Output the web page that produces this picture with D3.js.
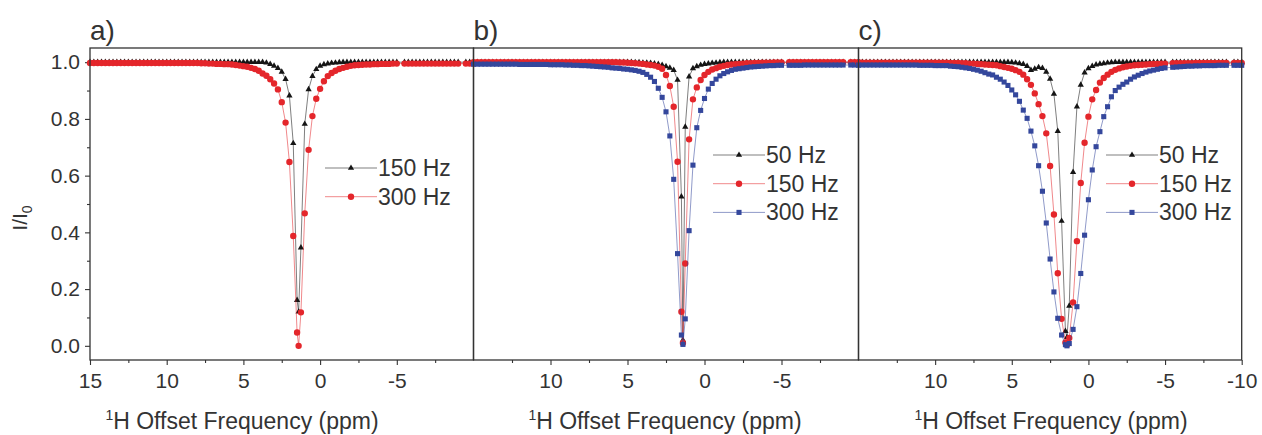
<!DOCTYPE html>
<html>
<head>
<meta charset="utf-8">
<script src="https://cdn.jsdelivr.net/npm/d3@7"></script>
<style>
body { margin: 0; background: #fff; }
svg { display: block; font-family: 'Liberation Sans', Arial, sans-serif; }
</style>
</head>
<body>
<div id="chart"></div>
<script>
// 1H offset frequencies (ppm), shared by every series
let offsets = [15, 14.75, 14.5, 14.25, 14, 13.75, 13.5, 13.25, 13, 12.75, 12.5, 12.25,
	12, 11.75, 11.5, 11.25, 11, 10.75, 10.5, 10.25, 10, 9.75, 9.5, 9.25,
	9, 8.75, 8.5, 8.25, 8, 7.75, 7.5, 7.25, 7, 6.75, 6.5, 6.25,
	6, 5.75, 5.5, 5.25, 5, 4.75, 4.5, 4.25, 4, 3.75, 3.5, 3.25,
	3, 2.75, 2.5, 2.25, 2, 1.75, 1.5, 1.4, 1.25,
	1, 0.75, 0.5, 0.25, 0, -0.25, -0.5, -0.75, -1, -1.25, -1.5, -1.75, -2,
	-2.25, -2.5, -2.75, -3, -3.25, -3.5, -3.75, -4, -4.25, -4.5, -4.75, -5,
	-5.5, -5.75, -6, -6.25, -6.5, -6.75, -7, -7.25, -7.5, -7.75, -8, -8.25,
	-8.5, -8.75, -9, -9.5, -9.75, -10];

// panel a
let a150 = [1, 1, 1, 1, 1, 1, 1, 1, 1, 1, 1, 1,
	1, 1, 1, 1, 1, 1, 1, 1, 1, 1, 1, 1,
	1, 1, 1, 1, 1, 1, 1, 1, 1, 1, 1, 1,
	1, 1, 1, 1, 1, 1, 1, 1, 1, 1, 0.998, 0.993,
	0.987, 0.979, 0.966, 0.94, 0.882, 0.714, 0.161, 0.12, 0.346,
	0.782, 0.904, 0.951, 0.975, 0.987, 0.992, 0.995, 0.997, 0.998, 0.999, 1, 1, 1,
	1, 1, 1, 1, 1, 1, 1, 1, 1, 1, 1, 1,
	1, 1, 1, 1, 1, 1, 1, 1, 1, 1, 1, 1,
	1, 1, 1, 1, 1, 1];
let a300 = [0.997, 0.997, 0.997, 0.997, 0.997, 0.997, 0.997, 0.997, 0.997, 0.997, 0.997, 0.997,
	0.997, 0.997, 0.997, 0.997, 0.997, 0.997, 0.997, 0.997, 0.997, 0.997, 0.997, 0.997,
	0.997, 0.997, 0.997, 0.997, 0.997, 0.996, 0.996, 0.995, 0.995, 0.994, 0.994, 0.993,
	0.993, 0.992, 0.99, 0.988, 0.986, 0.984, 0.98, 0.976, 0.97, 0.96, 0.952, 0.94,
	0.925, 0.904, 0.859, 0.787, 0.648, 0.387, 0.047, 0, 0.118,
	0.467, 0.691, 0.81, 0.871, 0.906, 0.933, 0.951, 0.962, 0.97, 0.976, 0.98, 0.984, 0.987,
	0.989, 0.99, 0.991, 0.992, 0.992, 0.993, 0.993, 0.994, 0.994, 0.994, 0.995, 0.995,
	0.995, 0.995, 0.995, 0.995, 0.995, 0.995, 0.995, 0.995, 0.995, 0.995, 0.995, 0.995,
	0.995, 0.995, 0.995, 0.995, 0.995, 0.995];

// panel b
let b50 = [1, 1, 1, 1, 1, 1, 1, 1, 1, 1, 1, 1,
	1, 1, 1, 1, 1, 1, 1, 1, 1, 1, 1, 1,
	1, 1, 1, 1, 1, 1, 1, 1, 1, 1, 1, 1,
	1, 1, 1, 1, 1, 1, 0.999, 0.999, 0.998, 0.998, 0.997, 0.995,
	0.993, 0.99, 0.985, 0.98, 0.972, 0.937, 0.526, 0.02, 0.772,
	0.949, 0.978, 0.985, 0.99, 0.993, 0.995, 0.997, 0.998, 0.999, 1, 1, 1, 1,
	1, 1, 1, 1, 1, 1, 1, 1, 1, 1, 1, 1,
	1, 1, 1, 1, 1, 1, 1, 1, 1, 1, 1, 1,
	1, 1, 1, 1, 1, 1];
let b150 = [1, 1, 1, 1, 1, 1, 1, 1, 1, 1, 1, 1,
	1, 1, 1, 1, 1, 1, 1, 1, 1, 1, 1, 1,
	1, 1, 1, 1, 1, 1, 1, 1, 1, 1, 1, 1,
	1, 1, 0.999, 0.999, 0.998, 0.997, 0.996, 0.995, 0.994, 0.992, 0.99, 0.988,
	0.984, 0.977, 0.955, 0.916, 0.843, 0.649, 0.12, 0.01, 0.29,
	0.728, 0.869, 0.911, 0.937, 0.955, 0.966, 0.974, 0.979, 0.984, 0.987, 0.99, 0.992, 0.993,
	0.994, 0.995, 0.996, 0.996, 0.997, 0.997, 0.998, 0.998, 0.998, 0.999, 0.999, 0.999,
	1, 1, 1, 1, 1, 1, 1, 1, 1, 1, 1, 1,
	1, 1, 1, 1, 1, 1];
let b300 = [0.993, 0.993, 0.993, 0.993, 0.993, 0.993, 0.993, 0.993, 0.993, 0.993, 0.993, 0.993,
	0.992, 0.992, 0.992, 0.992, 0.992, 0.992, 0.992, 0.992, 0.991, 0.991, 0.991, 0.991,
	0.99, 0.99, 0.989, 0.989, 0.988, 0.988, 0.987, 0.986, 0.985, 0.984, 0.983, 0.982,
	0.98, 0.979, 0.978, 0.976, 0.975, 0.973, 0.971, 0.968, 0.964, 0.957, 0.947, 0.932,
	0.908, 0.876, 0.825, 0.74, 0.587, 0.325, 0.038, 0.005, 0.095,
	0.406, 0.637, 0.769, 0.83, 0.872, 0.905, 0.925, 0.94, 0.952, 0.96, 0.966, 0.971, 0.975,
	0.977, 0.979, 0.981, 0.983, 0.984, 0.985, 0.986, 0.987, 0.988, 0.988, 0.989, 0.989,
	0.989, 0.989, 0.989, 0.989, 0.99, 0.99, 0.99, 0.99, 0.99, 0.99, 0.99, 0.99,
	0.99, 0.99, 0.99, 0.99, 0.99, 0.99];

// panel c
let c50 = [1, 1, 1, 1, 1, 1, 1, 1, 1, 1, 1, 1,
	1, 1, 1, 1, 1, 1, 1, 1, 1, 1, 1, 1,
	1, 1, 1, 1, 1, 1, 1, 1, 1, 1, 1, 1,
	1, 1, 1, 1, 0.999, 0.998, 0.996, 0.993, 0.986, 0.972, 0.976, 0.982,
	0.979, 0.966, 0.941, 0.888, 0.757, 0.44, 0.052, 0.03, 0.141,
	0.612, 0.843, 0.92, 0.963, 0.978, 0.986, 0.991, 0.994, 0.996, 0.998, 0.999, 1, 1,
	1, 1, 1, 1, 1, 1, 1, 1, 1, 1, 1, 1,
	1, 1, 1, 1, 1, 1, 1, 1, 1, 1, 1, 1,
	1, 1, 1, 1, 1, 1];
let c150 = [0.998, 0.998, 0.998, 0.998, 0.998, 0.998, 0.998, 0.998, 0.998, 0.998, 0.998, 0.998,
	0.998, 0.998, 0.998, 0.998, 0.998, 0.998, 0.998, 0.998, 0.998, 0.998, 0.998, 0.998,
	0.997, 0.997, 0.997, 0.996, 0.996, 0.995, 0.995, 0.994, 0.993, 0.992, 0.991, 0.99,
	0.989, 0.986, 0.983, 0.98, 0.977, 0.972, 0.966, 0.956, 0.94, 0.92, 0.89, 0.852,
	0.81, 0.749, 0.634, 0.463, 0.256, 0.095, 0.012, 0.004, 0.028,
	0.153, 0.369, 0.574, 0.716, 0.808, 0.869, 0.902, 0.928, 0.944, 0.956, 0.966, 0.973, 0.978,
	0.982, 0.985, 0.987, 0.989, 0.99, 0.991, 0.992, 0.993, 0.994, 0.994, 0.995, 0.995,
	0.996, 0.996, 0.996, 0.996, 0.996, 0.996, 0.997, 0.997, 0.997, 0.997, 0.997, 0.997,
	0.997, 0.997, 0.997, 0.997, 0.997, 0.997];
let c300 = [0.99, 0.99, 0.99, 0.99, 0.99, 0.99, 0.99, 0.99, 0.99, 0.99, 0.99, 0.99,
	0.99, 0.99, 0.99, 0.99, 0.989, 0.989, 0.989, 0.989, 0.988, 0.988, 0.988, 0.988,
	0.986, 0.985, 0.984, 0.982, 0.98, 0.978, 0.975, 0.972, 0.968, 0.963, 0.958, 0.955,
	0.947, 0.94, 0.93, 0.918, 0.902, 0.885, 0.862, 0.831, 0.802, 0.757, 0.705, 0.635,
	0.545, 0.433, 0.306, 0.19, 0.097, 0.038, 0.004, 0, 0.008,
	0.058, 0.138, 0.255, 0.39, 0.515, 0.62, 0.702, 0.755, 0.808, 0.843, 0.878, 0.9, 0.912,
	0.922, 0.93, 0.94, 0.948, 0.954, 0.96, 0.965, 0.969, 0.972, 0.975, 0.978, 0.98,
	0.982, 0.983, 0.984, 0.985, 0.986, 0.986, 0.987, 0.987, 0.988, 0.988, 0.988, 0.988,
	0.989, 0.989, 0.989, 0.989, 0.989, 0.989];

// tick labels
let yTicks = [0, 0.2, 0.4, 0.6, 0.8, 1.0];
let yMinor = [0.1, 0.3, 0.5, 0.7, 0.9];
let xTicksA = [15, 10, 5, 0, -5];
let xTicksB = [10, 5, 0, -5];
let xTicksC = [10, 5, 0, -5, -10];
let xMinor = [12.5, 7.5, 2.5, -2.5, -7.5];

// Set up SVG
let width = 1262;
let height = 435;
let plotTop = 48;
let plotBottom = 360;
let ink = '#333';

let svg = d3.select('#chart')
	.append('svg')
	.attr('width', width)
	.attr('height', height);

let black = {color: '#151515', symbol: d3.symbolTriangle, size: 17};
let red = {color: '#e4262b', symbol: d3.symbolCircle, size: 32};
let blue = {color: '#34479c', symbol: d3.symbolSquare, size: 26};

let panels = [
	{label: 'a)', x0: 90, x1: 473.5, ticks: xTicksA, yAxis: true, titleX: 242, legend: [325, 168],
	 series: [Object.assign({name: '150 Hz', values: a150}, black), Object.assign({name: '300 Hz', values: a300}, red)]},
	{label: 'b)', x0: 473.5, x1: 858.5, ticks: xTicksB, yAxis: false, titleX: 665, legend: [713, 155],
	 series: [Object.assign({name: '50 Hz', values: b50}, black), Object.assign({name: '150 Hz', values: b150}, red),
		Object.assign({name: '300 Hz', values: b300}, blue)]},
	{label: 'c)', x0: 858.5, x1: 1241.7, ticks: xTicksC, yAxis: false, titleX: 1051, legend: [1106, 155],
	 series: [Object.assign({name: '50 Hz', values: c50}, black), Object.assign({name: '150 Hz', values: c150}, red),
		Object.assign({name: '300 Hz', values: c300}, blue)]}
];

let y = d3.scaleLinear().domain([-0.05, 1.05]).range([plotBottom, plotTop]);

panels.forEach(function(p) {
	let x = d3.scaleLinear().domain([15, -10]).range([p.x0, p.x1]);
	let g = svg.append('g');

	// axes (plain hyphen for negatives, like the original)
	g.append('g')
		.attr('transform', 'translate(0,' + plotBottom + ')')
		.call(d3.axisBottom(x).tickValues(p.ticks).tickSize(5).tickPadding(8).tickFormat(function(d) { return String(d); }));
	g.append('g')
		.attr('transform', 'translate(0,' + plotBottom + ')')
		.call(d3.axisBottom(x).tickValues(xMinor).tickSize(3).tickFormat(''));

	if (p.yAxis) {
		g.append('g')
			.attr('transform', 'translate(' + p.x0 + ',0)')
			.call(d3.axisLeft(y).tickValues(yTicks).tickSize(5).tickPadding(5).tickFormat(d3.format('.1f')));
		g.append('g')
			.attr('transform', 'translate(' + p.x0 + ',0)')
			.call(d3.axisLeft(y).tickValues(yMinor).tickSize(3).tickFormat(''));
	}

	g.selectAll('.domain').remove();
	g.selectAll('.tick line').attr('stroke', ink).attr('stroke-width', 1.1);
	g.selectAll('.tick text').attr('fill', ink).attr('font-size', 21).attr('font-family', null);

	// series
	p.series.forEach(function(s) {
		let pts = offsets.map(function(o, i) { return [o, s.values[i]]; });
		g.append('path')
			.datum(pts)
			.attr('fill', 'none')
			.attr('stroke', s.color)
			.attr('stroke-opacity', 0.55)
			.attr('stroke-width', 1)
			.attr('d', d3.line().x(function(d) { return x(d[0]); }).y(function(d) { return y(d[1]); }));
		g.selectAll(null)
			.data(pts)
			.enter()
			.append('path')
			.attr('fill', s.color)
			.attr('transform', function(d) { return 'translate(' + x(d[0]) + ',' + y(d[1]) + ')'; })
			.attr('d', d3.symbol().type(s.symbol).size(s.size));
	});

	// frame
	g.append('rect')
		.attr('x', p.x0)
		.attr('y', plotTop)
		.attr('width', p.x1 - p.x0)
		.attr('height', plotBottom - plotTop)
		.attr('fill', 'none')
		.attr('stroke', ink)
		.attr('stroke-width', 1.3);

	// legend
	p.series.forEach(function(s, i) {
		let ly = p.legend[1] + i * 28.7;
		g.append('line')
			.attr('x1', p.legend[0])
			.attr('x2', p.legend[0] + 52)
			.attr('y1', ly)
			.attr('y2', ly)
			.attr('stroke', s.color)
			.attr('stroke-opacity', 0.55)
			.attr('stroke-width', 1);
		g.append('path')
			.attr('fill', s.color)
			.attr('transform', 'translate(' + (p.legend[0] + 26) + ',' + ly + ')')
			.attr('d', d3.symbol().type(s.symbol).size(s.size));
		g.append('text')
			.attr('x', p.legend[0] + 53)
			.attr('y', ly + 8)
			.attr('font-size', 23)
			.attr('fill', ink)
			.text(s.name);
	});

	// panel letter
	g.append('text')
		.attr('x', p.x0)
		.attr('y', 40)
		.attr('font-size', 28)
		.attr('fill', ink)
		.text(p.label);

	// x title
	let t = g.append('text')
		.attr('x', p.titleX)
		.attr('y', 429)
		.attr('text-anchor', 'middle')
		.attr('font-size', 23)
		.attr('fill', ink);
	t.append('tspan').attr('font-size', 14).attr('dy', -9).text('1');
	t.append('tspan').attr('dy', 9).text('H Offset Frequency (ppm)');
});

// y title
let yl = svg.append('text')
	.attr('transform', 'translate(27,218) rotate(-90)')
	.attr('text-anchor', 'middle')
	.attr('font-size', 21)
	.attr('fill', ink);
yl.append('tspan').text('I/I');
yl.append('tspan').attr('font-size', 14).attr('dy', 5).text('0');
</script>
</body>
</html>
